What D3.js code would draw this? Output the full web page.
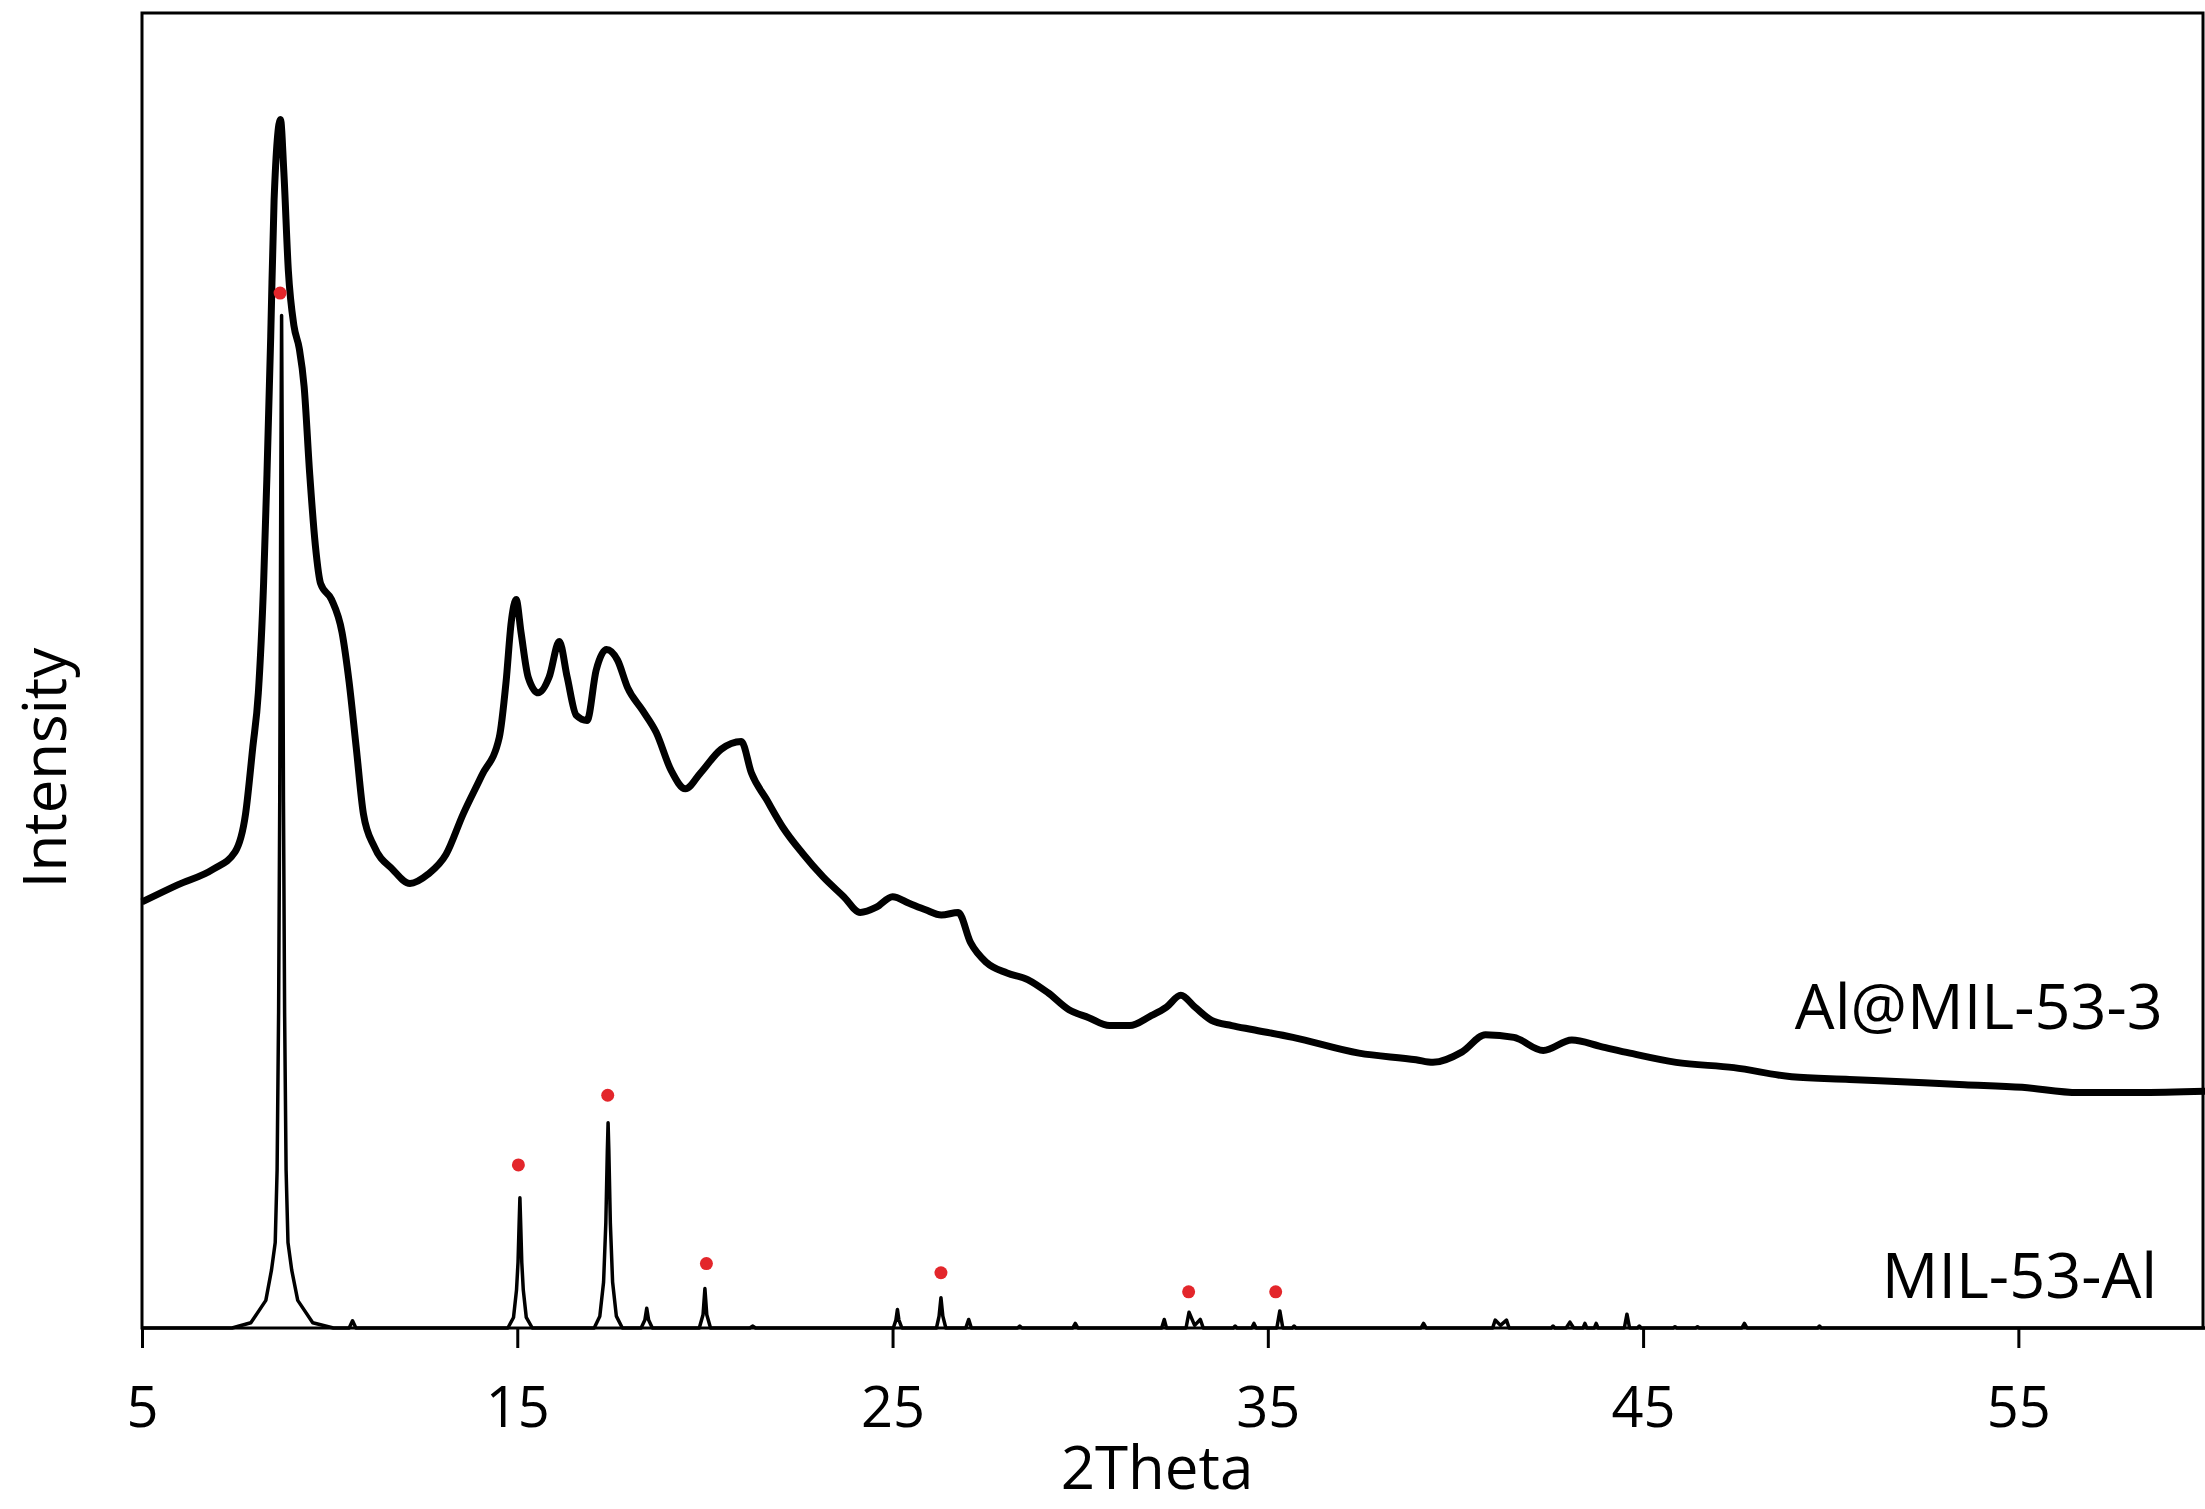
<!DOCTYPE html>
<html>
<head>
<meta charset="utf-8">
<script src="https://cdn.jsdelivr.net/npm/d3@7/dist/d3.min.js"></script>
<style>
  body { margin: 0; background: #fff; }
  text { font-family: "Open Sans", sans-serif; fill: #000; }
</style>
</head>
<body>
<svg id="chart" width="2205" height="1509"></svg>
<script>
const expTheta = [5.0, 5.95, 6.9, 7.48, 7.76, 7.95, 8.1, 8.24, 8.33, 8.43, 8.52, 8.69, 8.78, 8.9, 9.05,
  9.19, 9.32, 9.47, 9.62, 9.76, 10.05, 10.33, 10.52, 10.71, 10.9, 11.19, 11.67, 12.14, 12.62, 13.1,
  13.56, 14.05, 14.52, 14.7, 14.84, 14.97, 15.1, 15.29, 15.56, 15.85, 16.12, 16.33, 16.57, 16.86,
  17.1, 17.38, 17.67, 17.94, 18.33, 18.7, 19.1, 19.48, 19.88, 20.43, 20.97, 21.24, 21.64, 22.07,
  22.6, 23.15, 23.7, 24.14, 24.57, 25.0, 25.44, 25.88, 26.3, 26.75, 27.08, 27.5, 28.05, 28.6,
  29.14, 29.7, 30.23, 30.78, 31.32, 31.86, 32.3, 32.68, 33.06, 33.5, 34.04, 34.58, 35.67, 37.43,
  38.95, 39.4, 40.18, 40.8, 41.56, 42.34, 43.1, 43.88, 44.65, 45.88, 47.42, 48.96, 50.5, 52.04,
  53.56, 55.1, 56.6, 58.17, 60.0];
const expIntensity = [32.4, 33.7, 34.9, 36.2, 39.1, 44.1, 48.3, 56.6, 64.9, 75.4, 85.8, 91.9, 87.9, 80.4, 76.2,
  74.5, 71.6, 64.9, 59.5, 56.6, 55.4, 52.9, 49.1, 44.1, 39.1, 36.6, 34.9, 33.8, 34.5, 36.0,
  39.1, 42.0, 44.9, 49.1, 53.7, 55.4, 52.9, 49.5, 48.3, 49.5, 52.2, 49.5, 46.6, 46.2,
  50.0, 51.6, 50.8, 48.7, 47.0, 45.3, 42.4, 41.0, 42.2, 44.0, 44.6, 42.2, 40.2, 38.1,
  36.1, 34.3, 32.8, 31.6, 32.0, 32.8, 32.3, 31.8, 31.4, 31.6, 29.3, 27.8, 27.0, 26.5,
  25.5, 24.2, 23.6, 23.0, 23.0, 23.7, 24.4, 25.3, 24.4, 23.4, 23.0, 22.7, 22.1, 20.9,
  20.4, 20.2, 21.0, 22.3, 22.1, 21.1, 21.9, 21.4, 20.9, 20.2, 19.8, 19.1, 18.9, 18.7,
  18.5, 18.3, 17.9, 17.9, 18.0];

// MIL-53-Al simulated pattern
const simTheta = [5.0, 7.4, 7.9, 8.3, 8.45, 8.55, 8.6, 8.64, 8.67, 8.7, 8.72, 8.74, 8.77, 8.8, 8.84, 8.89,
  8.99, 9.15, 9.55, 10.1, 10.52, 10.61, 10.7,
  14.75, 14.9, 14.98, 15.02, 15.05, 15.07, 15.09, 15.12, 15.16, 15.24, 15.4,
  17.05, 17.2, 17.3, 17.36, 17.4, 17.42, 17.44, 17.48, 17.54, 17.64, 17.8,
  18.3, 18.4, 18.45, 18.5, 18.6, 19.85, 19.95, 20.0, 20.05, 20.15, 21.2, 21.27, 21.35,
  25.02, 25.09, 25.13, 25.17, 25.25, 26.17, 26.24, 26.29, 26.34, 26.42, 26.95, 27.03, 27.1,
  28.33, 28.39, 28.45, 29.8, 29.87, 29.94, 32.17, 32.24, 32.3, 32.82, 32.9, 33.05, 33.2, 33.28,
  34.08, 34.13, 34.18, 34.57, 34.63, 34.69, 35.24, 35.32, 35.4, 35.65, 35.7, 35.75,
  39.08, 39.15, 39.22, 40.99, 41.06, 41.2, 41.36, 41.43, 42.55, 42.6, 42.65, 42.95, 43.05, 43.15,
  43.4, 43.45, 43.5, 43.7, 43.75, 43.8, 44.5, 44.57, 44.64, 44.85, 44.9, 44.95,
  45.8, 45.85, 45.9, 46.4, 46.45, 46.5, 47.63, 47.7, 47.77, 49.65, 49.7, 49.75, 60.0];
const simIntensity = [0, 0, 0.4, 2.1, 4.4, 6.5, 12.0, 24.0, 40.0, 65.0, 77.0, 65.0, 40.0, 24.0, 12.0, 6.5,
  4.4, 2.1, 0.4, 0, 0, 0.55, 0,
  0, 0.8, 2.9, 5.0, 8.0, 9.9, 8.0, 5.0, 2.9, 0.8, 0,
  0, 0.9, 3.5, 8.0, 13.5, 15.6, 13.5, 8.0, 3.5, 0.9, 0,
  0, 0.6, 1.5, 0.6, 0, 0, 1.0, 3.0, 1.0, 0, 0, 0.15, 0,
  0, 0.6, 1.4, 0.6, 0, 0, 0.9, 2.3, 0.9, 0, 0, 0.65, 0,
  0, 0.15, 0, 0, 0.35, 0, 0, 0.65, 0, 0, 1.2, 0.2, 0.65, 0,
  0, 0.15, 0, 0, 0.35, 0, 0, 1.3, 0, 0, 0.15, 0,
  0, 0.35, 0, 0, 0.6, 0.2, 0.6, 0, 0, 0.15, 0, 0, 0.45, 0,
  0, 0.35, 0, 0, 0.35, 0, 0, 1.05, 0, 0, 0.15, 0,
  0, 0.1, 0, 0, 0.1, 0, 0, 0.35, 0, 0, 0.15, 0, 0];

// red markers over the matched reflections
const markerTheta = [8.68, 15.03, 17.41, 20.04, 26.29, 32.89, 35.21];
const markerIntensity = [78.7, 12.4, 17.7, 4.9, 4.2, 2.75, 2.75];

const xTicks = [5, 15, 25, 35, 45, 55];

const seriesLabels = [
  { text: 'Al@MIL-53-3', theta: 58.85, value: 22.7 },
  { text: 'MIL-53-Al', theta: 58.7, value: 2.3 }
];

const margin = { top: 13, right: 0, bottom: 181, left: 142 };
const svg = d3.select('#chart');
const height = 1509 - margin.top - margin.bottom;

const x = d3.scaleLinear().domain([5, 60]).range([0, 2064]);
const y = d3.scaleLinear().domain([0, 100]).range([height, 0]);

const g = svg.append('g').attr('transform', `translate(${margin.left},${margin.top})`);

let line = d3.line().x(d => x(d[0])).y(d => y(d[1]));

// simulated pattern
g.append('path')
  .datum(d3.zip(simTheta, simIntensity))
  .attr('fill', 'none')
  .attr('stroke', '#000')
  .attr('stroke-width', 3.5)
  .attr('stroke-linejoin', 'round')
  .attr('d', line);

// measured pattern (thick stroke stands in for the counting noise)
g.append('path')
  .datum(d3.zip(expTheta, expIntensity))
  .attr('fill', 'none')
  .attr('stroke', '#000')
  .attr('stroke-width', 7)
  .attr('stroke-linejoin', 'round')
  .attr('d', line.curve(d3.curveMonotoneX));

// markers
g.selectAll('circle.marker')
  .data(d3.zip(markerTheta, markerIntensity))
  .enter()
  .append('circle')
    .attr('class', 'marker')
    .attr('cx', d => x(d[0]))
    .attr('cy', d => y(d[1]))
    .attr('r', 6.5)
    .attr('fill', '#e3262b');

// frame
g.append('rect')
  .attr('x', 0)
  .attr('y', 0)
  .attr('width', 2061)
  .attr('height', height)
  .attr('fill', 'none')
  .attr('stroke', '#000')
  .attr('stroke-width', 3);

// x axis
let xAxis = g.append('g')
  .attr('transform', `translate(0,${height})`)
  .call(d3.axisBottom(x).tickValues(xTicks).tickSize(20).tickFormat(d3.format('d')));
xAxis.select('.domain').remove();
xAxis.selectAll('line').attr('stroke', '#000').attr('stroke-width', 3);
xAxis.selectAll('text')
  .attr('y', 99)
  .attr('dy', 0)
  .style('font-family', '"Open Sans", sans-serif')
  .style('font-size', '56px')
  .attr('fill', '#000');

// axis titles
svg.append('text')
  .attr('x', 1157)
  .attr('y', 1489)
  .attr('text-anchor', 'middle')
  .style('font-size', '60px')
  .text('2Theta');

svg.append('text')
  .attr('transform', 'translate(66,768) rotate(-90)')
  .attr('text-anchor', 'middle')
  .style('font-size', '60px')
  .text('Intensity');

// series labels
g.selectAll('text.series')
  .data(seriesLabels)
  .enter()
  .append('text')
    .attr('class', 'series')
    .attr('x', d => x(d.theta))
    .attr('y', d => y(d.value))
    .attr('text-anchor', 'end')
    .style('font-size', '63px')
    .text(d => d.text);
</script>
</body>
</html>
